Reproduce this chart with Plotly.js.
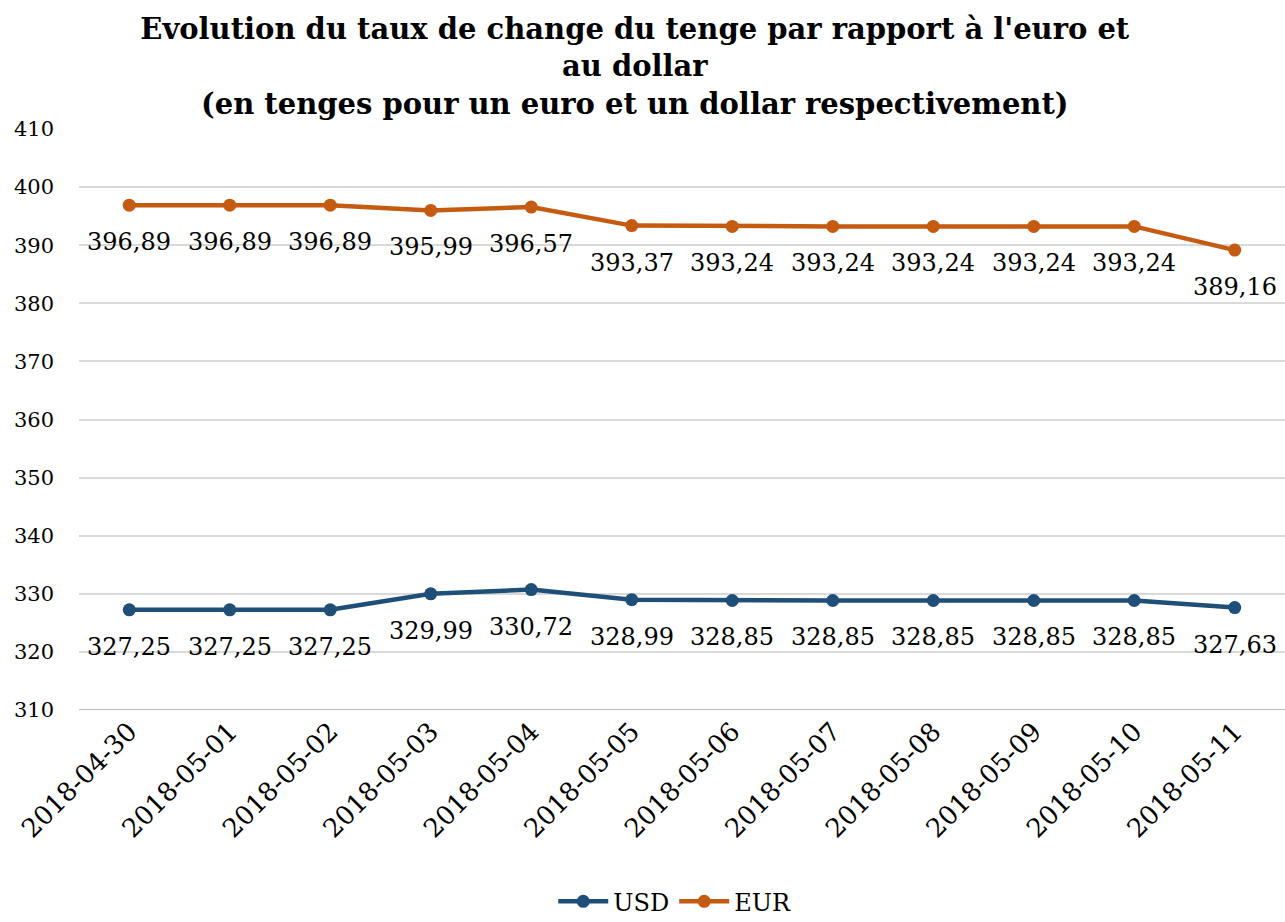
<!DOCTYPE html>
<html><head><meta charset="utf-8">
<script src="https://cdn.plot.ly/plotly-3.0.1.min.js"></script>
<style>html,body{margin:0;padding:0;background:#fff}</style>
</head><body>
<div id="chart" style="width:1285px;height:922px"></div>
<script>
const dates = ["2018-04-30","2018-05-01","2018-05-02","2018-05-03","2018-05-04","2018-05-05","2018-05-06","2018-05-07","2018-05-08","2018-05-09","2018-05-10","2018-05-11"];
const usd = [327.25,327.25,327.25,329.99,330.72,328.99,328.85,328.85,328.85,328.85,328.85,327.63];
const eur = [396.89,396.89,396.89,395.99,396.57,393.37,393.24,393.24,393.24,393.24,393.24,389.16];
const yTicks = [310,320,330,340,350,360,370,380,390,400,410];

const FONT = "DejaVu Serif, Liberation Serif, serif";
const fmt = v => v.toFixed(2).replace('.', ',');
const cUSD = "#1F4E79", cEUR = "#C55A11";

const traces = [
  {x: dates, y: usd, name: "USD", type: "scatter", mode: "lines+markers",
   line: {color: cUSD, width: 4.5}, marker: {color: cUSD, size: 13}},
  {x: dates, y: eur, name: "EUR", type: "scatter", mode: "lines+markers",
   line: {color: cEUR, width: 4.5}, marker: {color: cEUR, size: 13}}
];

const annotations = [];
[usd, eur].forEach(arr => {
  arr.forEach((v, i) => annotations.push({
    x: dates[i], y: v, xref: "x", yref: "y", text: fmt(v), showarrow: false,
    yshift: -37, font: {family: FONT, size: 24, color: "#000"}
  }));
});

const layout = {
  width: 1285, height: 922,
  margin: {l: 79, r: 0, t: 129, b: 212},
  paper_bgcolor: "#fff", plot_bgcolor: "#fff",
  font: {family: FONT, color: "#000"},
  title: {
    text: "<b>Evolution du taux de change du tenge par rapport à l'euro et<br>au dollar<br>(en tenges pour un euro et un dollar respectivement)</b>",
    font: {family: FONT, size: 29, color: "#000"},
    x: 0.494, xanchor: "center", yref: "container", y: 0.958, yanchor: "top"
  },
  xaxis: {
    type: "category", tickangle: -45, range: [-0.5, 11.5], automargin: false,
    tickfont: {family: FONT, size: 26, color: "#000"},
    showgrid: false, showline: false, ticks: "", zeroline: false
  },
  yaxis: {
    range: [310, 410], tickvals: yTicks, ticktext: yTicks.map(String), automargin: false,
    tickfont: {family: FONT, size: 21, color: "#000"},
    showgrid: true, gridcolor: "#D9D9D9", gridwidth: 1.5,
    zeroline: false, showline: false, ticks: "", ticklabelstandoff: 24
  },
  shapes: [{type: "line", xref: "paper", yref: "y", x0: 0, x1: 1, y0: 310, y1: 310,
            line: {color: "#A6A6A6", width: 1.5}}],
  legend: {orientation: "h", x: 0.494, xanchor: "center", yref: "container", y: 0.022, yanchor: "middle",
           font: {family: FONT, size: 24, color: "#000"}, itemwidth: 50},
  annotations: annotations
};

Plotly.newPlot("chart", traces, layout, {displayModeBar: false});
</script>
</body></html>
